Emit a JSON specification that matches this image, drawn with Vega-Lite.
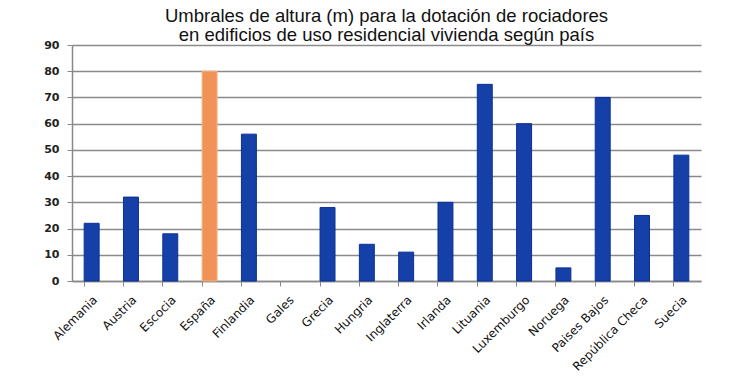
{
  "$schema": "https://vega.github.io/schema/vega-lite/v6.json",
  "width": 629,
  "height": 236,
  "autosize": {"type": "none"},
  "padding": {"left": 72, "top": 45, "right": 49, "bottom": 111},
  "background": "white",
  "title": {
    "text": ["Umbrales de altura (m) para la dotación de rociadores", "en edificios de uso residencial vivienda según país"],
    "font": "Liberation Sans",
    "fontSize": 18.5,
    "fontWeight": "normal",
    "color": "#111",
    "anchor": "middle",
    "frame": "group",
    "lineHeight": 19,
    "offset": -5
  },
  "data": {
    "values": [
      {"pais": "Alemania", "altura": 22, "grupo": "otro"},
      {"pais": "Austria", "altura": 32, "grupo": "otro"},
      {"pais": "Escocia", "altura": 18, "grupo": "otro"},
      {"pais": "España", "altura": 80, "grupo": "España"},
      {"pais": "Finlandia", "altura": 56, "grupo": "otro"},
      {"pais": "Gales", "altura": null, "grupo": "otro"},
      {"pais": "Grecia", "altura": 28, "grupo": "otro"},
      {"pais": "Hungria", "altura": 14, "grupo": "otro"},
      {"pais": "Inglaterra", "altura": 11, "grupo": "otro"},
      {"pais": "Irlanda", "altura": 30, "grupo": "otro"},
      {"pais": "Lituania", "altura": 75, "grupo": "otro"},
      {"pais": "Luxemburgo", "altura": 60, "grupo": "otro"},
      {"pais": "Noruega", "altura": 5, "grupo": "otro"},
      {"pais": "Paises Bajos", "altura": 70, "grupo": "otro"},
      {"pais": "República Checa", "altura": 25, "grupo": "otro"},
      {"pais": "Suecia", "altura": 48, "grupo": "otro"}
    ]
  },
  "mark": {"type": "bar", "strokeWidth": 1},
  "encoding": {
    "x": {
      "field": "pais",
      "type": "nominal",
      "sort": null,
      "scale": {
        "domain": ["Alemania", "Austria", "Escocia", "España", "Finlandia", "Gales", "Grecia", "Hungria", "Inglaterra", "Irlanda", "Lituania", "Luxemburgo", "Noruega", "Paises Bajos", "República Checa", "Suecia"],
        "paddingInner": 0.62,
        "paddingOuter": 0.31
      },
      "axis": {
        "title": null,
        "labelAngle": -45,
        "labelFont": "DejaVu Sans",
        "labelFontSize": 12,
        "labelColor": "#111",
        "labelPadding": 8,
        "domainColor": "#888",
        "domainWidth": 1.5,
        "tickColor": "#888",
        "tickSize": 5,
        "tickWidth": 1,
        "bandPosition": 0,
        "grid": false
      }
    },
    "y": {
      "field": "altura",
      "type": "quantitative",
      "scale": {"domain": [0, 90], "nice": false},
      "axis": {
        "title": null,
        "values": [0, 10, 20, 30, 40, 50, 60, 70, 80, 90],
        "labelFont": "DejaVu Sans",
        "labelFontSize": 11,
        "labelFontWeight": "bold",
        "labelColor": "#222",
        "labelPadding": 8,
        "domainColor": "#888",
        "domainWidth": 1.5,
        "tickColor": "#888",
        "tickSize": 5,
        "gridColor": "#8a8a8a",
        "gridWidth": 1.5,
        "gridOpacity": 1
      }
    },
    "color": {
      "field": "grupo",
      "type": "nominal",
      "scale": {"domain": ["España", "otro"], "range": ["#ef9358", "#1540a8"]},
      "legend": null
    },
    "stroke": {
      "field": "grupo",
      "type": "nominal",
      "scale": {"domain": ["España", "otro"], "range": ["#f5b080", "#0c2f96"]},
      "legend": null
    }
  },
  "config": {"view": {"stroke": null}}
}
